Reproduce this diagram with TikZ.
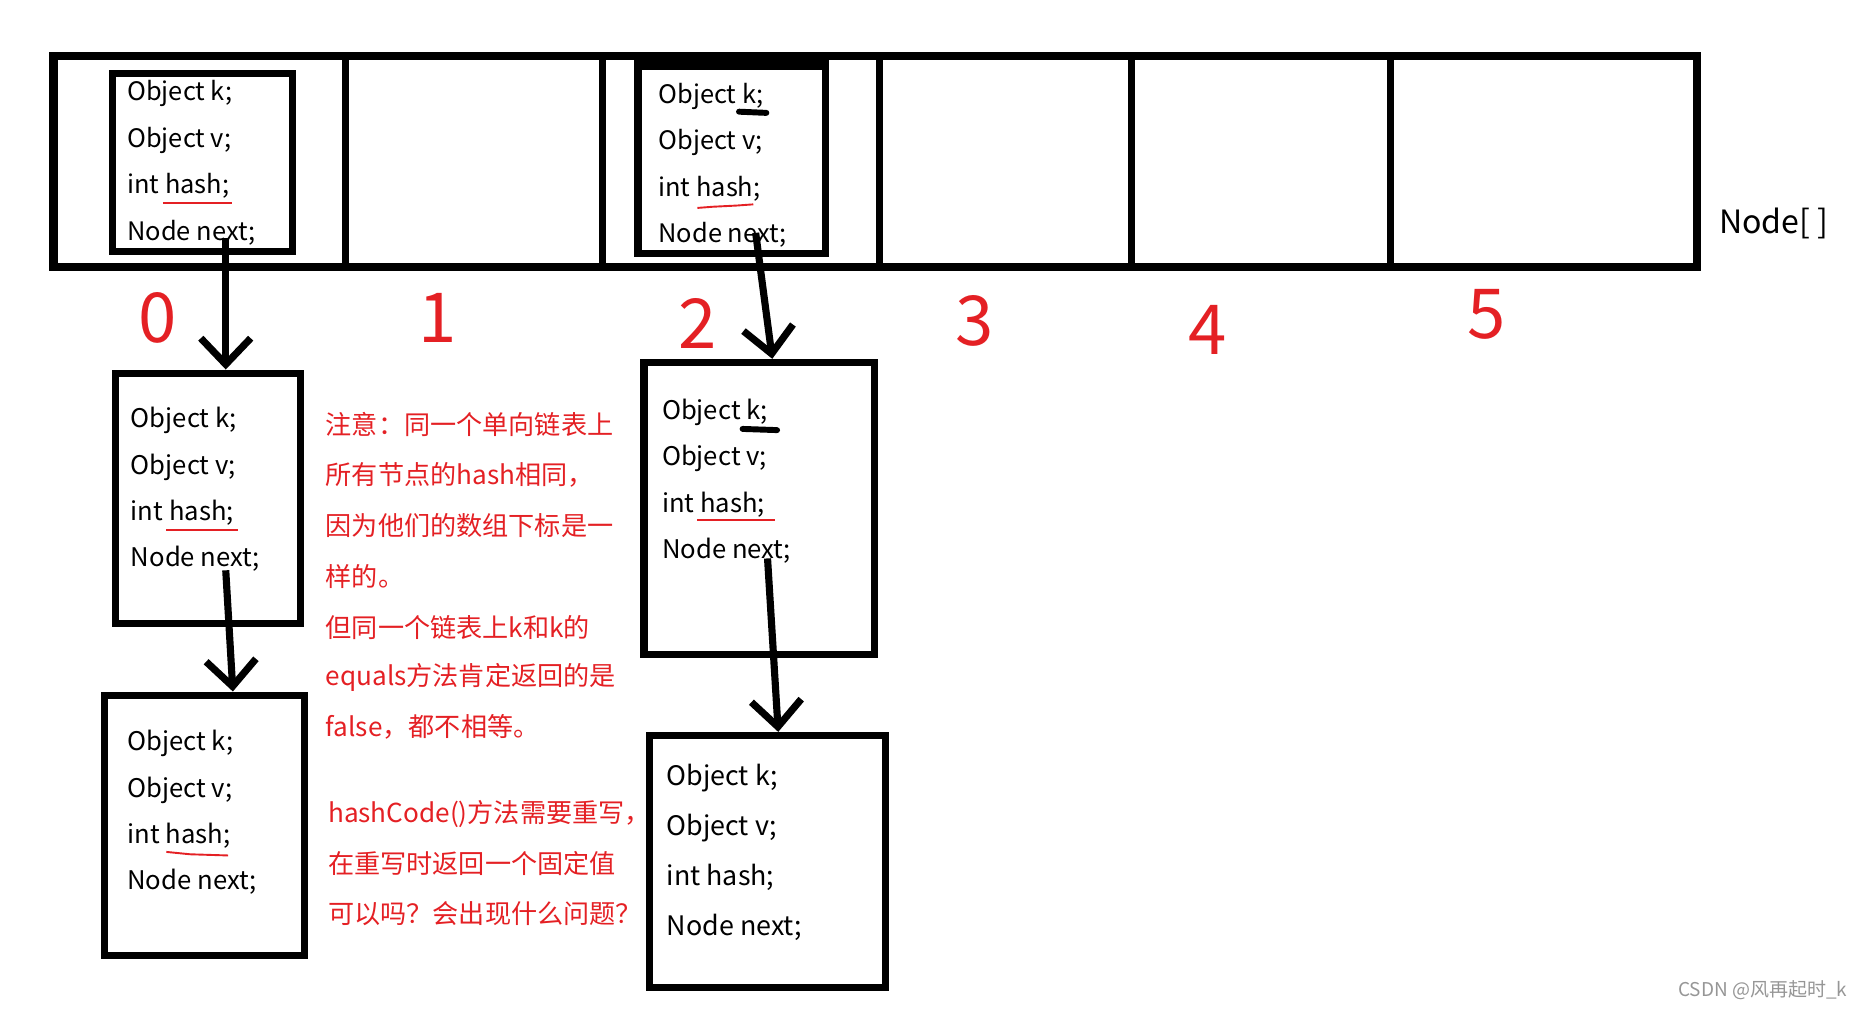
\documentclass[tikz,border=0pt]{standalone}
\usepackage{fontspec}
\setmainfont{Noto Sans CJK SC}
\usetikzlibrary{arrows.meta,calc}
\definecolor{cred}{RGB}{228,32,36}
\definecolor{wmgray}{RGB}{150,150,150}
\begin{document}
\begin{tikzpicture}[x=1pt,y=-1pt,
  nbox/.style={draw, line width=6pt, inner sep=0pt},
  fld/.style={anchor=west, inner sep=0pt, text height=15pt, text depth=5pt},
  conn/.style={line width=6pt, -{Straight Barb[length=22pt,width=42pt,line width=6pt]}},
  digit/.style={text=cred, inner sep=0pt, font=\fontsize{58}{60}\selectfont},
  note/.style={text=cred, anchor=west, inner sep=0pt, font=\fontsize{22}{24}\selectfont},
  hl/.style={draw=cred, line width=1.6pt},
  km/.style={line width=5pt, line cap=round}
]
\useasboundingbox (0,0) rectangle (1568,849);
% array
\node[nbox, line width=7pt, minimum width=1383pt, minimum height=178pt] (arr) at (736.5,136) {};
\foreach \xx in {291,507,740,952,1170} \draw[line width=6pt] (\xx,47) -- (\xx,225);
% boxes
\node[nbox, minimum width=151pt, minimum height=150pt] (box0) at (170.5,137) {};
\node[nbox, minimum width=158pt, minimum height=158pt] (box2) at (616,134) {};
\fill (534,47) rectangle (698,59);
\node[nbox, minimum width=156pt, minimum height=211pt] (a1box) at (175,419.5) {};
\node[nbox, minimum width=168pt, minimum height=219pt] (a2box) at (172,694.5) {};
\node[nbox, minimum width=194pt, minimum height=246pt] (b1box) at (639,428) {};
\node[nbox, minimum width=198pt, minimum height=212pt] (b3box) at (646,725) {};
% fields
\foreach \n/\x/\y/\d/\fs in {f0/107/80/39/21.4, f2/554/82/39/21.4, fa1/110/355/39/21.6, fa2/107/627/39/21.6, fb1/557/348/39/21.6, fb3/561/656/42/22.6} {
  \node[fld, font=\fontsize{\fs}{\fs}\selectfont] (\n-k) at (\x,\y) {Object k;};
  \node[fld, font=\fontsize{\fs}{\fs}\selectfont] (\n-v) at (\x,{\y+\d}) {Object v;};
  \node[fld, font=\fontsize{\fs}{\fs}\selectfont] (\n-h) at (\x,{\y+2*\d}) {int hash;};
  \node[fld, font=\fontsize{\fs}{\fs}\selectfont] (\n-n) at (\x,{\y+3*\d}) {Node next;};
}
% red underlines
\draw[hl] (137,171) -- (195,171);
\draw[hl] (587,175) -- (600,174) -- (620,173) -- (634,172);
\draw[hl] (140,446) -- (200,446);
\draw[hl] (140,717) -- (160,719) -- (192,720);
\draw[hl] (587,438) -- (652,438);
% black marks
\draw[km] (622,94) -- (645,95);
\draw[km] (625,361) -- (654,362);
% connectors
\coordinate (s0) at (190,200);
\coordinate (s1) at (190,480);
\coordinate (s2) at (636,196);
\coordinate (s3) at (646,470);
\draw[conn] (s0) -- ($(a1box.north)+(15,0)$);
\draw[conn] (s1) -- ($(a2box.north)+(24,0)$);
\draw[conn] (s2) -- ($(b1box.north)+(11,0)$);
\draw[conn] (s3) -- ($(b3box.north)+(9,0)$);
% digits
\node[digit] (i0) at (133,268) {0};
\node[digit] (i1) at (368,268) {1};
\node[digit] (i2) at (587,272) {2};
\node[digit] (i3) at (820,270) {3};
\node[digit] (i4) at (1016,278) {4};
\node[digit] (i5) at (1251,265) {5};
\node[inner sep=0pt, font=\fontsize{27}{30}\selectfont] (lbl) at (1493,188) {Node[ ]};
% note
\node[note] (r1) at (274,357) {注意：同一个单向链表上};
\node[note] (r2) at (274,400) {所有节点的hash相同，};
\node[note] (r3) at (274,442) {因为他们的数组下标是一};
\node[note] (r4) at (274,485) {样的。};
\node[note] (r5) at (274,528) {但同一个链表上k和k的};
\node[note] (r6) at (274,570) {equals方法肯定返回的是};
\node[note] (r7) at (274,612) {false，都不相等。};
\node[note] (r8) at (276,685) {hashCode()方法需要重写，};
\node[note] (r9) at (276,727) {在重写时返回一个固定值};
\node[note] (r10) at (276,769) {可以吗？会出现什么问题？};
\node[text=wmgray, inner sep=0pt, anchor=east, font=\fontsize{16}{18}\selectfont] (wm) at (1555,833) {CSDN @风再起时\_k};
\end{tikzpicture}
\end{document}
